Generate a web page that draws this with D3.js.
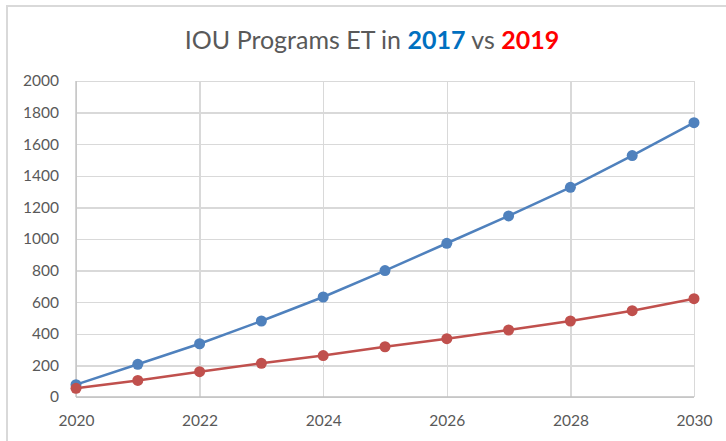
<!DOCTYPE html>
<html>
<head>
<meta charset="utf-8">
<script src="https://d3js.org/d3.v7.min.js"></script>
<style>
  body { margin: 0; background: #fff; font-family: Lato, "Open Sans", sans-serif; }
  .grid line { stroke: #d9d9d9; stroke-width: 1.3; shape-rendering: crispEdges; }
  .grid path { display: none; }
</style>
</head>
<body>
<div id="chart"></div>
<script>
var years = [2020, 2021, 2022, 2023, 2024, 2025, 2026, 2027, 2028, 2029, 2030];
var et2017 = [78, 207, 337, 481, 633, 800, 973, 1146, 1327, 1528, 1736];
var et2019 = [55, 105, 160, 213, 262, 318, 369, 424, 481, 546, 622];
var xTicks = [2020, 2022, 2024, 2026, 2028, 2030];
var yTicks = [0, 200, 400, 600, 800, 1000, 1200, 1400, 1600, 1800, 2000];

var W = 726, H = 441;
var margin = {top: 81, right: 32, bottom: 44, left: 76},
    width = W - margin.left - margin.right,
    height = H - margin.top - margin.bottom;

var root = d3.select("#chart").append("svg")
    .attr("width", W)
    .attr("height", H);

// outer chart border (runs off the right and bottom edges)
root.append("rect")
    .attr("x", 7).attr("y", 6)
    .attr("width", W + 20).attr("height", H + 20)
    .style("fill", "none")
    .style("stroke", "#d9d9d9")
    .style("stroke-width", 2);

// title
var title = root.append("text")
    .attr("x", 372).attr("y", 49)
    .attr("text-anchor", "middle")
    .style("font-size", "25px")
    .style("fill", "#595959");
title.append("tspan").text("IOU Programs ET in ");
title.append("tspan").style("fill", "#0070c0").style("font-weight", "bold").text("2017");
title.append("tspan").text(" vs ");
title.append("tspan").style("fill", "#ff0000").style("font-weight", "bold").text("2019");

var svg = root.append("g")
    .attr("transform", "translate(" + margin.left + "," + margin.top + ")");

var x = d3.scaleLinear().domain([2020, 2030]).range([0, width]);
var y = d3.scaleLinear().domain([0, 2000]).range([height, 0]);

// grids
svg.append("g")
    .attr("class", "grid")
    .call(d3.axisLeft(y).tickValues(yTicks).tickSize(-width).tickFormat(""));
svg.append("g")
    .attr("class", "grid")
    .attr("transform", "translate(0," + height + ")")
    .call(d3.axisBottom(x).tickValues(xTicks).tickSize(-height).tickFormat(""));

// left and bottom axis lines
svg.append("line")
    .attr("x1", 0).attr("x2", 0).attr("y1", 0).attr("y2", height)
    .style("stroke", "#bfbfbf").style("stroke-width", 1.3);
svg.append("line")
    .attr("x1", 0).attr("x2", width).attr("y1", height).attr("y2", height)
    .style("stroke", "#bfbfbf").style("stroke-width", 1.3);

// axis labels
var yAxis = svg.append("g")
    .call(d3.axisLeft(y).tickValues(yTicks).tickFormat(d3.format("d")).tickSize(0).tickPadding(17));
yAxis.select(".domain").remove();

var xAxis = svg.append("g")
    .attr("transform", "translate(0," + height + ")")
    .call(d3.axisBottom(x).tickValues(xTicks).tickFormat(d3.format("d")).tickSize(0).tickPadding(18));
xAxis.select(".domain").remove();

svg.selectAll(".tick text")
    .style("font-family", "Lato, 'Open Sans', sans-serif")
    .style("font-size", "15.5px")
    .style("fill", "#595959");

// series
var series = [
  {values: et2017, color: "#4f81bd"},
  {values: et2019, color: "#c0504d"}
];

var line = d3.line()
    .x(function(d, i) { return x(years[i]); })
    .y(function(d) { return y(d); });

series.forEach(function(s) {
  svg.append("path")
      .datum(s.values)
      .attr("d", line)
      .style("fill", "none")
      .style("stroke", s.color)
      .style("stroke-width", 2.5);

  svg.selectAll(null)
      .data(s.values)
    .enter().append("circle")
      .attr("cx", function(d, i) { return x(years[i]); })
      .attr("cy", function(d) { return y(d); })
      .attr("r", 5.5)
      .style("fill", s.color);
});
</script>
</body>
</html>
